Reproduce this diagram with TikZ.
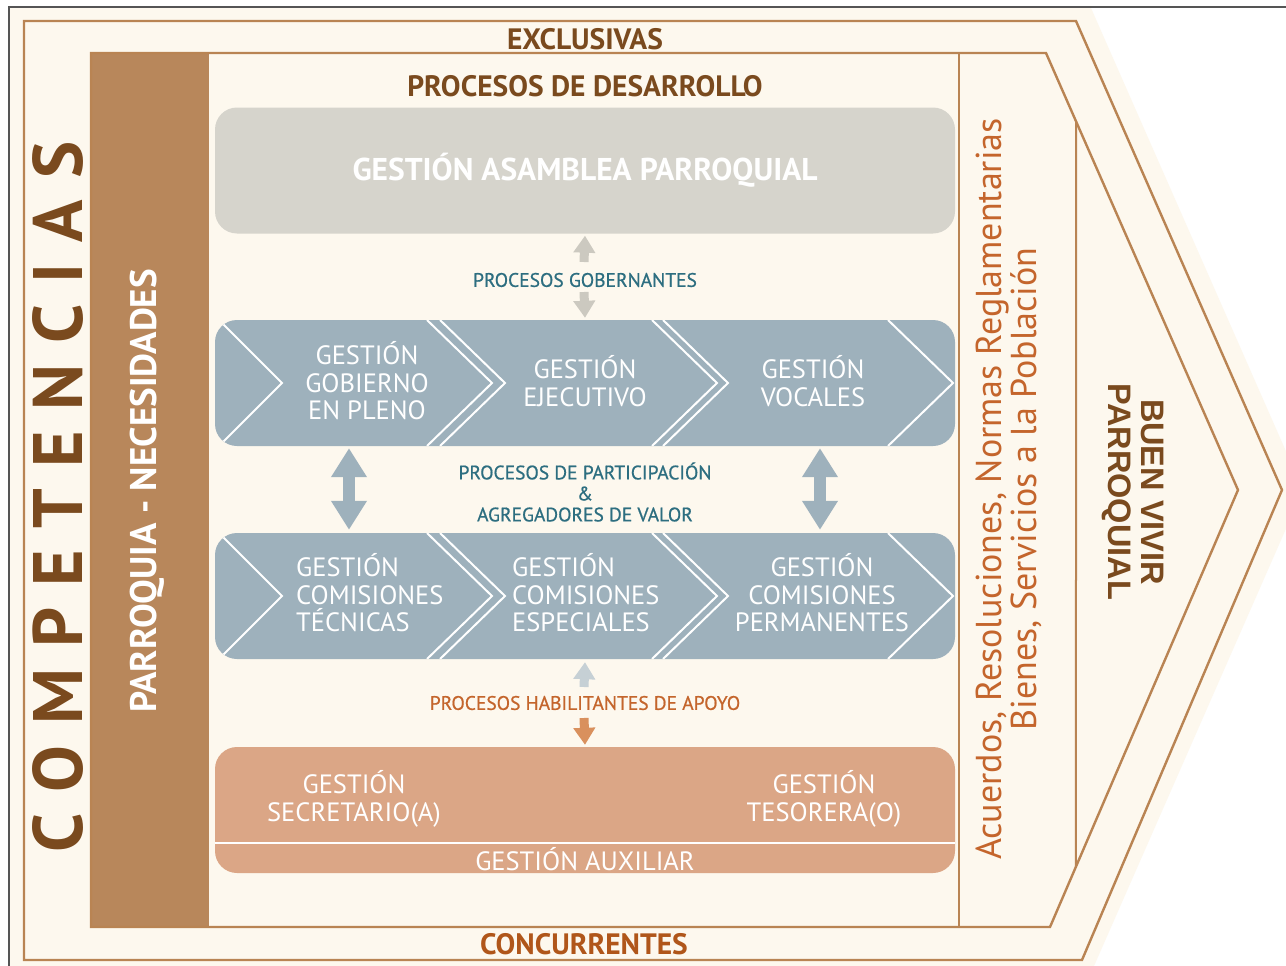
\documentclass[tikz,border=0pt]{standalone}
\usepackage{fontspec}
\setmainfont{PT Sans}
\newfontfamily\labelfam[FakeBold=0.7]{PT Sans}
\newfontfamily\arialfam{Liberation Sans}
\usetikzlibrary{arrows.meta}

\definecolor{cream}{HTML}{FDF8EE}
\definecolor{frameline}{HTML}{B98453}
\definecolor{barbrown}{HTML}{B8875B}
\definecolor{darkbrown}{HTML}{7A4A1E}
\definecolor{rust}{HTML}{B0561A}
\definecolor{govgray}{HTML}{D6D4CC}
\definecolor{govarrow}{HTML}{CCC9C0}
\definecolor{partblue}{HTML}{9EB1BC}
\definecolor{proteal}{HTML}{2D6E80}
\definecolor{paleblue}{HTML}{C6D0D5}
\definecolor{supportfill}{HTML}{DBA686}
\definecolor{supportarrow}{HTML}{D9905D}
\definecolor{supporttext}{HTML}{C4652C}
\definecolor{pagegray}{HTML}{555555}

\tikzset{
  outline/.style={draw=frameline, line width=2.4pt, line join=miter},
  panel/.style={minimum width=740pt, minimum height=126pt, rounded corners=22pt, inner sep=0pt},
  chevron/.style={draw=white, line width=2pt},
  celltext/.style={text=white, inner sep=0pt, align=center, font=\fontsize{26.5}{27.5}\selectfont},
  heading/.style={inner sep=0pt, font=\bfseries\fontsize{29.5}{31}\selectfont},
  proclabel/.style={inner sep=0pt, align=center, font=\labelfam\fontsize{19.5}{21}\selectfont},
  smallarrow/.style={line width=9pt, -{Triangle[width=21pt,length=17pt]}},
  bigarrow/.style={line width=12pt, draw=partblue,
    {Triangle[width=34pt,length=29pt]}-{Triangle[width=34pt,length=29pt]}},
}

\begin{document}
\begin{tikzpicture}[x=1pt,y=-1pt]
\useasboundingbox (0,0) rectangle (1286,966);
\clip (0,0) rectangle (1286,966);
\fill[white] (0,0) rectangle (1286,966);

% cream pentagon behind everything
\fill[cream] (10,8) -- (1091,8) -- (1303,490) -- (1094,966) -- (10,966) -- cycle;
\draw[pagegray, line width=2pt] (9,970) -- (9,7) -- (1290,7);

% left needs bar
\fill[barbrown] (91,53) rectangle (209,927);

% outer and inner arrow outlines
\draw[outline] (24,21) -- (1076,21) -- (1282,490) -- (1082,960) -- (24,960) -- cycle;
\draw[outline] (91,53) coordinate (in-tl) -- (1046,53) coordinate (in-tr)
  -- (1238,490) coordinate (in-tip) -- (1050,927) coordinate (in-br) -- (91,927) -- cycle;
\draw[draw=frameline, line width=2pt] (959,53) -- (959,927);
\draw[draw=frameline, line width=2pt]
  (intersection of 1076,0--1076,966 and in-tr--in-tip) --
  (intersection of 1076,0--1076,966 and in-tip--in-br);

% headings
\node[heading, text=darkbrown] (exclusivas) at (585,39) {EXCLUSIVAS};
\node[heading, text=darkbrown] (desarrollo) at (585,86) {PROCESOS DE DESARROLLO};
\node[heading, text=rust] (concurrentes) at (584,944) {CONCURRENTES};

% governing block
\node[panel, fill=govgray, text=white, font=\bfseries\fontsize{31.5}{33}\selectfont]
  (asamblea) at (585,170.5) {GESTIÓN ASAMBLEA PARROQUIAL};

% participation rows
\node[panel, fill=partblue] (rowA) at (585,383) {};
\node[panel, fill=partblue] (rowB) at (585,596) {};
\begin{scope}
  \clip[rounded corners=22pt] (215,320) rectangle (955,446);
  \draw[chevron] (219,320) -- (282,383) -- (219,446);
  \draw[chevron] (427,320) -- (492,383) -- (427,446);
  \draw[chevron] (440,320) -- (505,383) -- (440,446);
  \draw[chevron] (652,320) -- (717,383) -- (652,446);
  \draw[chevron] (663,320) -- (728,383) -- (663,446);
  \draw[chevron] (888,320) -- (953,383) -- (888,446);
\end{scope}
\begin{scope}
  \clip[rounded corners=22pt] (215,533) rectangle (955,659);
  \draw[chevron] (219,533) -- (282,596) -- (219,659);
  \draw[chevron] (427,533) -- (492,596) -- (427,659);
  \draw[chevron] (440,533) -- (505,596) -- (440,659);
  \draw[chevron] (652,533) -- (717,596) -- (652,659);
  \draw[chevron] (663,533) -- (728,596) -- (663,659);
  \draw[chevron] (888,533) -- (953,596) -- (888,659);
\end{scope}

\node[celltext] (pleno) at (367,381) {GESTIÓN\\GOBIERNO\\EN PLENO};
\node[celltext] (ejecutivo) at (585,381) {GESTIÓN\\EJECUTIVO};
\node[celltext] (vocales) at (813,381) {GESTIÓN\\VOCALES};
\node[celltext, align=left, anchor=west] (tecnicas) at (296,593) {GESTIÓN\\COMISIONES\\TÉCNICAS};
\node[celltext, align=left, anchor=west] (especiales) at (512,593) {GESTIÓN\\COMISIONES\\ESPECIALES};
\node[celltext] (permanentes) at (822,593) {GESTIÓN\\COMISIONES\\PERMANENTES};

% support block
\node[panel, fill=supportfill] (apoyo) at (585,810) {};
\draw[white, line width=2pt] ([yshift=-33pt]apoyo.west) -- ([yshift=-33pt]apoyo.east);
\node[celltext] (secretario) at (354,799) {GESTIÓN\\SECRETARIO(A)};
\node[celltext] (tesorero) at (824,799) {GESTIÓN\\TESORERA(O)};
\node[celltext] (auxiliar) at (585,859) {GESTIÓN AUXILIAR};

% process labels
\node[proclabel, text=proteal] (gobernantes) at (585,280) {PROCESOS GOBERNANTES};
\node[proclabel, text=proteal] (participacion) at (585,492)
  {PROCESOS DE PARTICIPACIÓN\\\&\\AGREGADORES DE VALOR};
\node[proclabel, text=supporttext] (habilitantes) at (585,703) {PROCESOS HABILITANTES DE APOYO};

% connectors between the blocks
\coordinate (govup) at (584,262);
\coordinate (govdown) at (584,292);
\coordinate (supup) at (584,687);
\coordinate (supdown) at (584,718);
\draw[smallarrow, draw=govarrow] (govup) -- ([yshift=-2pt]asamblea.south);
\draw[smallarrow, draw=govarrow] (govdown) -- ([yshift=2pt]rowA.north);
\draw[smallarrow, draw=paleblue] (supup) -- ([yshift=-3pt]rowB.south);
\draw[smallarrow, draw=supportarrow] (supdown) -- ([yshift=2pt]apoyo.north);
\draw[bigarrow] ([shift={(-236pt,-2pt)}]rowA.south) -- ([shift={(-236pt,3pt)}]rowB.north);
\draw[bigarrow] ([shift={(235pt,-2pt)}]rowA.south) -- ([shift={(235pt,3pt)}]rowB.north);

% side labels
\node[rotate=90, inner sep=0pt, text=darkbrown, font=\bfseries\fontsize{70}{72}\selectfont]
  (competencias) at (58,497)
  {C\kern21pt O\kern21pt M\kern21pt P\kern21pt E\kern21pt T\kern21pt E\kern21pt N\kern21pt C\kern21pt I\kern21pt A\kern21pt S};
\node[rotate=90, inner sep=0pt, text=white, font=\bfseries\fontsize{37}{39}\selectfont]
  (necesidades) at (147,491) {PARROQUIA - NECESIDADES};
\node[rotate=90, inner sep=0pt, align=center, text=supporttext, font=\fontsize{36}{32}\selectfont]
  (productos) at (1009,489) {Acuerdos, Resoluciones, Normas Reglamentarias\\Bienes, Servicios a la Población};
\node[rotate=-90, inner sep=0pt, align=center, text=darkbrown, font=\arialfam\bfseries\fontsize{32.5}{33}\selectfont]
  (buenvivir) at (1133,492) {BUEN VIVIR\\PARROQUIAL};
\end{tikzpicture}
\end{document}
